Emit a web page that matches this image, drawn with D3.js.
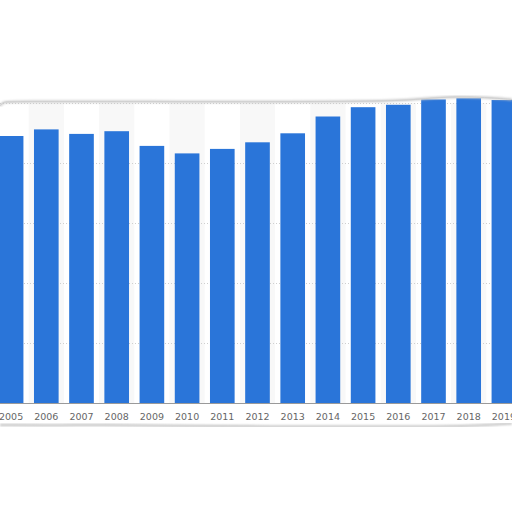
<!DOCTYPE html>
<html>
<head>
<meta charset="utf-8">
<script src="https://cdn.jsdelivr.net/npm/d3@7"></script>
<style>
  html, body { margin: 0; padding: 0; background: #fff; }
  svg { display: block; }
  .tick text { font-family: "DejaVu Sans", sans-serif; font-size: 9.5px; fill: #666; }
</style>
</head>
<body>
<svg id="chart" width="512" height="512"></svg>
<script>
// Data
const years = ["2005", "2006", "2007", "2008", "2009", "2010", "2011", "2012",
               "2013", "2014", "2015", "2016", "2017", "2018", "2019"];
const values = [89.0, 91.2, 89.7, 90.6, 85.7, 83.2, 84.7, 86.9,
                89.9, 95.5, 98.6, 99.4, 101.2, 101.6, 101.0];
const gridValues = [20, 40, 60, 80, 100];

const plot = { left: -6.5, right: 521.5, top: 103, bottom: 403 };

const svg = d3.select("#chart");

const x = d3.scaleBand()
    .domain(years)
    .range([plot.left, plot.right])
    .paddingInner(0.3)
    .paddingOuter(0.15);

const y = d3.scaleLinear()
    .domain([0, 100])
    .range([plot.bottom, plot.top]);

const defs = svg.append("defs");
defs.append("filter").attr("id", "soft")
    .append("feGaussianBlur").attr("stdDeviation", 1.2);

// Alternate column shading
svg.append("g")
    .selectAll("rect")
    .data(years.filter((d, i) => i % 2 === 1))
    .join("rect")
    .attr("x", d => x(d) - x.step() * x.paddingInner() / 2)
    .attr("width", x.step())
    .attr("y", y(100))
    .attr("height", y(0) - y(100))
    .attr("fill", "#f8f8f8");

// Dotted grid lines
svg.append("g")
    .selectAll("line")
    .data(gridValues)
    .join("line")
    .attr("x1", 0)
    .attr("x2", 512)
    .attr("y1", d => y(d) + 0.5)
    .attr("y2", d => y(d) + 0.5)
    .attr("stroke", "#cfcfcf")
    .attr("stroke-dasharray", "1,2");

// Bars
svg.append("g")
    .selectAll("rect")
    .data(values)
    .join("rect")
    .attr("x", (d, i) => x(years[i]))
    .attr("width", x.bandwidth())
    .attr("y", d => y(d))
    .attr("height", d => y(0) - y(d))
    .attr("fill", "#2a75d9");

// X axis
const xAxis = svg.append("g")
    .attr("transform", `translate(0,${plot.bottom})`)
    .call(d3.axisBottom(x).tickSize(0).tickPadding(10));
xAxis.select(".domain").attr("stroke", "#9a9a9a").attr("stroke-width", 1);

// Torn edge at the top of the frame
const edge = d3.line().curve(d3.curveBasis);
const topEdge = [[0, 106], [3, 102], [10, 101.5], [150, 101.6], [300, 101.8],
                 [400, 101], [425, 98.5], [455, 96.5], [485, 97.3], [512, 99.5]];
svg.append("path")
    .attr("d", edge(topEdge))
    .attr("fill", "none")
    .attr("stroke", "#c4c4c4")
    .attr("stroke-width", 2)
    .attr("filter", "url(#soft)");
svg.append("path")
    .attr("d", edge(topEdge))
    .attr("fill", "none")
    .attr("stroke", "#d0d0d0")
    .attr("stroke-width", 1);

// Shadow under the axis labels
const bottomEdge = [[0, 425], [60, 425.5], [100, 424.5], [160, 425.8], [300, 426.6],
                    [420, 426.8], [480, 425.5], [512, 423.5]];
svg.append("path")
    .attr("d", edge(bottomEdge))
    .attr("fill", "none")
    .attr("stroke", "#bcbcbc")
    .attr("stroke-width", 2)
    .attr("filter", "url(#soft)");
</script>
</body>
</html>
